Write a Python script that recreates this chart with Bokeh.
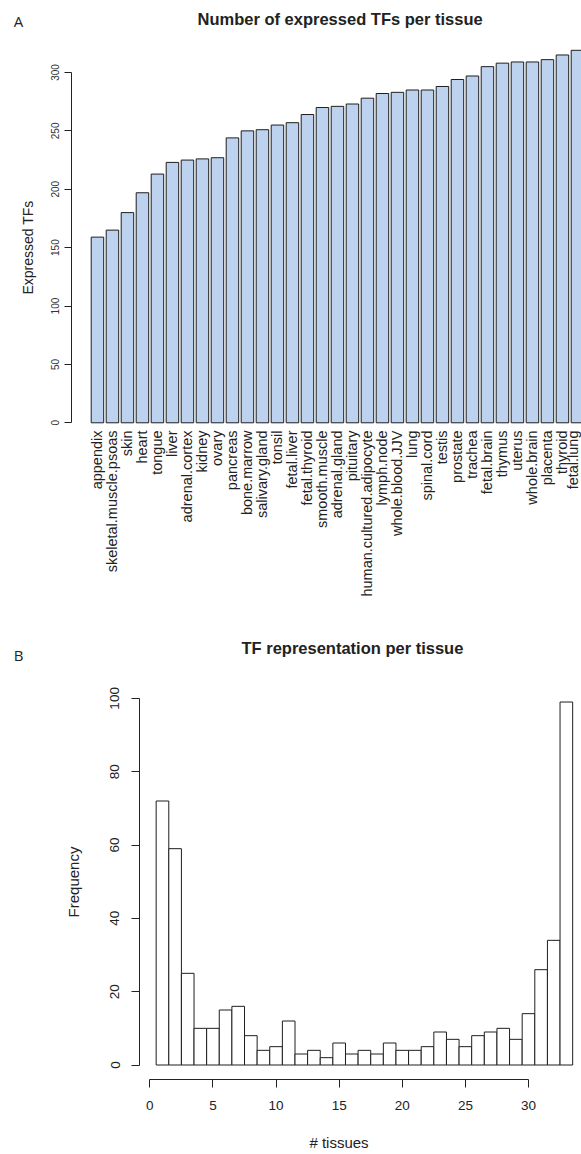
import math
import numpy as np
from bokeh.plotting import figure
from bokeh.models import (FixedTicker, Label, ColumnDataSource, Range1d, LinearAxis)
from bokeh.embed import file_html
from bokeh.resources import INLINE

# ---------------- data ----------------
tissues = ["appendix", "skeletal.muscle.psoas", "skin", "heart", "tongue", "liver",
           "adrenal.cortex", "kidney", "ovary", "pancreas", "bone.marrow",
           "salivary.gland", "tonsil", "fetal.liver", "fetal.thyroid", "smooth.muscle",
           "adrenal.gland", "pituitary", "human.cultured.adipocyte", "lymph.node",
           "whole.blood.JJV", "lung", "spinal.cord", "testis", "prostate", "trachea",
           "fetal.brain", "thymus", "uterus", "whole.brain", "placenta", "thyroid",
           "fetal.lung"]
expressed_tfs = [159, 165, 180, 197, 213, 223, 225, 226, 227, 244, 250, 251, 255, 257,
                 264, 270, 271, 273, 278, 282, 283, 285, 285, 288, 294, 297, 305, 308,
                 309, 309, 311, 315, 319]
y_ticks_a = [0, 50, 100, 150, 200, 250, 300]

n_tissues = [1, 2, 3, 4, 5, 6, 7, 8, 9, 10, 11, 12, 13, 14, 15, 16, 17, 18, 19, 20,
             21, 22, 23, 24, 25, 26, 27, 28, 29, 30, 31, 32, 33]
frequency = [72, 59, 25, 10, 10, 15, 16, 8, 4, 5, 12, 3, 4, 2, 6, 3, 4, 3, 6, 4, 4, 5,
             9, 7, 5, 8, 9, 10, 7, 14, 26, 34, 99]
x_ticks_b = [0, 5, 10, 15, 20, 25, 30]
y_ticks_b = [0, 20, 40, 60, 80, 100]

FONT = "Liberation Sans"
TXT = "#222222"


def bare_figure(w, h, xr, yr):
    p = figure(width=w, height=h, x_range=Range1d(*xr), y_range=Range1d(*yr),
               x_axis_type=None, y_axis_type=None, output_backend="svg",
               toolbar_location=None, title=None, min_border=0,
               min_border_left=0, min_border_right=0, min_border_top=0,
               min_border_bottom=0)
    p.outline_line_color = None
    p.background_fill_color = "white"
    p.border_fill_color = "white"
    return p


# ---------------- panel A ----------------
# frame = whole canvas; 15 px per bar slot, 1.1677 px per TF
pos = np.arange(1, len(tissues) + 1)
src_a = ColumnDataSource(dict(x=pos, top=expressed_tfs))

p1 = bare_figure(581, 625, (-5.463, 33.27), (-173.6, 361.65))
p1.vbar(x="x", top="top", bottom=0, width=1 / 1.2, source=src_a,
        fill_color="#BCD2EE", line_color="#1e1e1e", line_width=1)

xa = LinearAxis(fixed_location=-2.31)
xa.ticker = FixedTicker(ticks=[int(v) for v in pos])
xa.major_label_overrides = {int(i): t for i, t in zip(pos, tissues)}
xa.major_label_orientation = math.pi / 2
xa.axis_line_color = None
xa.major_tick_line_color = None
xa.minor_tick_line_color = None
xa.major_tick_out = 0
xa.major_tick_in = 0
xa.major_label_standoff = 5
xa.major_label_text_font = FONT
xa.major_label_text_font_size = "14.5px"
xa.major_label_text_color = TXT
p1.add_layout(xa, "below")

ya = LinearAxis(fixed_location=-0.73)
ya.ticker = FixedTicker(ticks=y_ticks_a)
ya.bounds = (0, 300)
ya.major_tick_out = 7
ya.major_tick_in = 0
ya.minor_tick_line_color = None
ya.major_label_orientation = "vertical"
ya.major_label_standoff = 5
ya.major_label_text_font = FONT
ya.major_label_text_font_size = "10px"
ya.major_label_text_color = "#333333"
ya.axis_line_color = "#222222"
ya.major_tick_line_color = "#222222"
ya.axis_label = "Expressed TFs"
ya.axis_label_text_font = FONT
ya.axis_label_text_font_size = "14px"
ya.axis_label_text_font_style = "normal"
ya.axis_label_text_color = TXT
ya.axis_label_standoff = 13
p1.add_layout(ya, "left")

p1.add_layout(Label(x=7.67, y=346.2, text="Number of expressed TFs per tissue",
                    text_font=FONT, text_font_size="16.5px", text_font_style="bold",
                    text_color=TXT, text_align="left", text_baseline="middle"))
p1.add_layout(Label(x=-4.576, y=344.5, text="A", text_font="Open Sans",
                    text_font_size="15px", text_color=TXT, text_align="left",
                    text_baseline="middle"))

# ---------------- panel B ----------------
# frame = whole canvas; 12.62 px per tissue, 3.6663 px per count
nt = np.array(n_tissues, dtype=float)
src_b = ColumnDataSource(dict(left=nt - 0.5, right=nt + 0.5, top=frequency))

p2 = bare_figure(581, 529, (-11.834, 34.2), (-24.41, 119.87))
p2.quad(left="left", right="right", top="top", bottom=0, source=src_b,
        fill_color="white", line_color="#1e1e1e", line_width=1)

xb = LinearAxis(fixed_location=-3.96)
xb.ticker = FixedTicker(ticks=x_ticks_b)
xb.bounds = (0, 30)
xb.major_tick_out = 8
xb.major_tick_in = 0
xb.minor_tick_line_color = None
xb.major_label_standoff = 13
xb.major_label_text_font = FONT
xb.major_label_text_font_size = "13.5px"
xb.major_label_text_color = TXT
xb.axis_line_color = "#222222"
xb.major_tick_line_color = "#222222"
xb.axis_label = "# tissues"
xb.axis_label_text_font = FONT
xb.axis_label_text_font_size = "15px"
xb.axis_label_text_font_style = "normal"
xb.axis_label_text_color = TXT
xb.axis_label_standoff = 21
p2.add_layout(xb, "below")

yb = LinearAxis(fixed_location=-0.82)
yb.ticker = FixedTicker(ticks=y_ticks_b)
yb.bounds = (0, 100)
yb.major_tick_out = 8
yb.major_tick_in = 0
yb.minor_tick_line_color = None
yb.major_label_orientation = "vertical"
yb.major_label_standoff = 12
yb.major_label_text_font = FONT
yb.major_label_text_font_size = "13.5px"
yb.major_label_text_color = TXT
yb.axis_line_color = "#222222"
yb.major_tick_line_color = "#222222"
yb.axis_label = "Frequency"
yb.axis_label_text_font = FONT
yb.axis_label_text_font_size = "15px"
yb.axis_label_text_font_style = "normal"
yb.axis_label_text_color = TXT
yb.axis_label_standoff = 26
p2.add_layout(yb, "left")

p2.add_layout(Label(x=7.26, y=113.6, text="TF representation per tissue",
                    text_font=FONT, text_font_size="16.5px", text_font_style="bold",
                    text_color=TXT, text_align="left", text_baseline="middle"))
p2.add_layout(Label(x=-10.78, y=111.7, text="B", text_font="Open Sans",
                    text_font_size="15px", text_color=TXT, text_align="left",
                    text_baseline="middle"))

open("out.html", "w").write(file_html([p1, p2], INLINE))
